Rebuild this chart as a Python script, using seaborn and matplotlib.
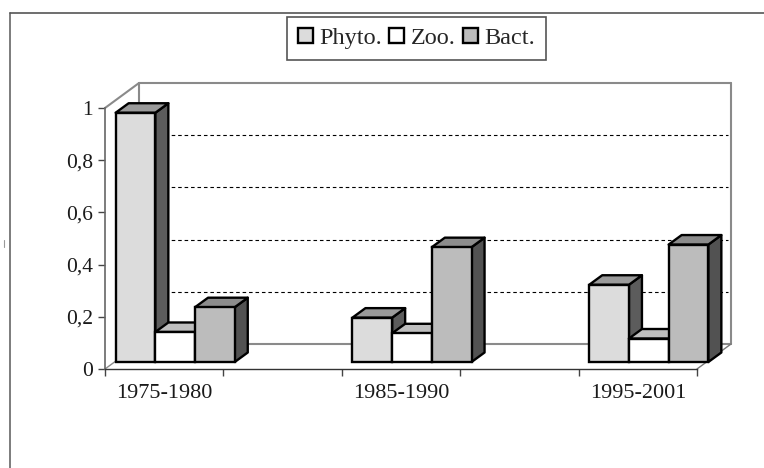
import matplotlib
matplotlib.use("Agg")
import matplotlib.pyplot as plt
from matplotlib.lines import Line2D
from matplotlib.patches import Polygon
import numpy as np
import pandas as pd
import seaborn as sns

periods = ["1975-1980", "1985-1990", "1995-2001"]
phyto = [0.955, 0.17, 0.296]
zoo = [0.115, 0.11, 0.09]
bact = [0.21, 0.44, 0.45]
series_names = ["Phyto.", "Zoo.", "Bact."]
y_ticks = [0, 0.2, 0.4, 0.6, 0.8, 1]
y_tick_labels = ["0", "0,2", "0,4", "0,6", "0,8", "1"]

front_cols = ["#dcdcdc", "#ffffff", "#bcbcbc"]
top_cols = ["#9a9a9a", "#bfbfbf", "#8c8c8c"]
side_cols = ["#5c5c5c", "#555555", "#525252"]

df = pd.DataFrame({
    "period": periods * 3,
    "series": np.repeat(series_names, 3),
    "value": phyto + zoo + bact,
})

sns.set_style("white")
plt.rcParams["font.family"] = ["Liberation Serif", "DejaVu Serif"]

W, H = 764, 468
fig = plt.figure(figsize=(W / 100, H / 100), dpi=100)
left, right, top, bottom = 105, 697, 108, 369
ax = fig.add_axes([left / W, 1 - bottom / H, (right - left) / W, (bottom - top) / H])

sns.barplot(data=df, x="period", y="value", hue="series", hue_order=series_names,
            palette=front_cols, saturation=1, width=0.503, gap=0, ax=ax,
            edgecolor="black", linewidth=1.7)
ax.set_xlim(-0.25, 2.25)
ax.set_ylim(0, 1)

# pixels -> data units, the fake 3d is just offsets
px_x = 2.5 / (right - left)
px_y = 1 / (bottom - top)
wall_dx, wall_dy = 34 * px_x, 25 * px_y
shift_x, shift_y = 11 * px_x, 7 * px_y
bar_dx, bar_dy = 13 * px_x, 9.5 * px_y

# back wall and floor
wall = dict(color="#8a8a8a", lw=1.5, clip_on=False, zorder=1)
ax.plot([-0.25 + wall_dx] * 2, [wall_dy, 1 + wall_dy], **wall)
ax.plot([-0.25 + wall_dx, 2.25 + wall_dx], [1 + wall_dy] * 2, **wall)
ax.plot([2.25 + wall_dx] * 2, [wall_dy, 1 + wall_dy], **wall)
ax.plot([-0.25 + wall_dx, 2.25 + wall_dx], [wall_dy] * 2, **wall)
ax.plot([-0.25, -0.25 + wall_dx], [1, 1 + wall_dy], **wall)
ax.plot([-0.25, -0.25 + wall_dx], [0, wall_dy], color="#8a8a8a", lw=1, clip_on=False, zorder=1)
ax.plot([2.25, 2.25 + wall_dx], [0, wall_dy], color="#777777", lw=1, clip_on=False, zorder=1)
for t in y_ticks[1:-1]:
    ax.plot([-0.25 + wall_dx, 2.25 + wall_dx - 3 * px_x], [t + wall_dy] * 2, color="black",
            lw=0.8, dashes=(3.2, 2.6), clip_on=False, zorder=1)

# seaborn draws the fronts, side and top faces follow from them
# (it also leaves empty rectangles for the legend, skip those)
for bar in ax.patches:
    if bar.get_height() == 0:
        bar.set_visible(False)
bars = sorted([b for b in ax.patches if b.get_height() > 0], key=lambda b: b.get_x())
for i, bar in enumerate(bars):
    col = i % 3
    x0 = bar.get_x() + shift_x
    x1 = x0 + bar.get_width()
    y0 = shift_y
    y1 = y0 + bar.get_height()
    bar.set_x(x0)
    bar.set_y(y0)
    bar.set_clip_on(False)
    bar.set_zorder(10 + i + 0.5)
    style = dict(edgecolor="black", linewidth=1.7, joinstyle="round", clip_on=False, zorder=10 + i)
    ax.add_patch(Polygon([(x1, y0), (x1 + bar_dx, y0 + bar_dy), (x1 + bar_dx, y1 + bar_dy), (x1, y1)],
                         facecolor=side_cols[col], **style))
    ax.add_patch(Polygon([(x0, y1), (x0 + bar_dx, y1 + bar_dy), (x1 + bar_dx, y1 + bar_dy), (x1, y1)],
                         facecolor=top_cols[col], **style))

ax.set_xlabel("")
ax.set_ylabel("")
ax.set_yticks(y_ticks)
ax.set_yticklabels(y_tick_labels)
ax.set_xticks(np.arange(-0.25, 2.3, 0.5), minor=True)
ax.tick_params(axis="x", which="minor", bottom=True, length=5, width=1, color="#444444")
ax.tick_params(axis="x", which="major", bottom=False, pad=7, labelsize=16, labelcolor="#1a1a1a")
ax.tick_params(axis="y", left=True, length=5, width=1, color="#444444", pad=3.5,
               labelsize=15.5, labelcolor="#1a1a1a")
sns.despine(ax=ax)
ax.spines["left"].set_color("#666666")
ax.spines["bottom"].set_color("#333333")
ax.spines["left"].set_linewidth(1.2)
ax.spines["bottom"].set_linewidth(1)
ax.patch.set_alpha(0)

sns.move_legend(ax, "center", bbox_to_anchor=(416.5 / W, 1 - 38.5 / H),
                bbox_transform=fig.transFigure, ncol=3, title=None, frameon=True,
                fancybox=False, edgecolor="#555555", framealpha=1, fontsize=17.5,
                handlelength=0.6, handleheight=0.6, handletextpad=0.28,
                columnspacing=0.3, borderpad=0.45, borderaxespad=0)
ax.get_legend().get_frame().set_linewidth(1.2)
ax.get_legend().set_zorder(50)

# outer frame of the scanned page
fig.add_artist(Line2D([9.5 / W, 9.5 / W], [0, 1 - 12.5 / H], color="#666666", lw=1.2))
fig.add_artist(Line2D([9.5 / W, 1], [1 - 12.5 / H] * 2, color="#555555", lw=1.2))
fig.add_artist(Line2D([4 / W, 4 / W], [1 - 247 / H, 1 - 240 / H], color="#999999", lw=0.8))

fig.savefig("out.png", dpi=100)
